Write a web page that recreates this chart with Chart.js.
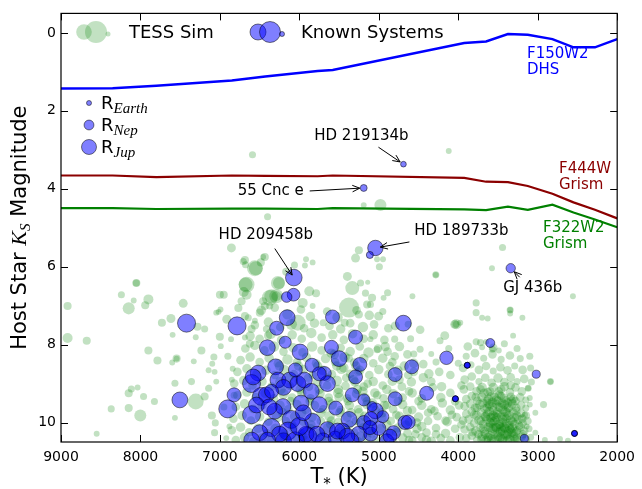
<!DOCTYPE html>
<html>
<head>
<meta charset="utf-8">
<script src="https://cdn.jsdelivr.net/npm/chart.js@4.4.1/dist/chart.umd.min.js"></script>
<style>
  html, body { margin: 0; padding: 0; background: #fff; }
  canvas { display: block; }
</style>
</head>
<body>
<canvas id="tessChart" width="642" height="489"></canvas>
<script>
const xTicks = [9000, 8000, 7000, 6000, 5000, 4000, 3000, 2000];
const yTicks = [0, 2, 4, 6, 8, 10];

// saturation limits (Ks) against stellar Teff
const limitTeff = [9000, 8350, 7800, 6850, 6430, 5770, 5580, 3925, 3650, 3375, 3125, 2815, 2550, 2280, 2000];
const f150w2Dhs = [1.43, 1.42, 1.36, 1.22, 1.12, 0.98, 0.95, 0.26, 0.22, 0.03, 0.05, 0.16, 0.37, 0.37, 0.16];
const f444wGrism = [3.66, 3.66, 3.70, 3.66, 3.67, 3.68, 3.66, 3.72, 3.82, 3.83, 3.93, 4.13, 4.35, 4.54, 4.76];
const f322w2Grism = [4.50, 4.50, 4.52, 4.51, 4.51, 4.52, 4.50, 4.53, 4.55, 4.46, 4.54, 4.41, 4.61, 4.79, 4.99];

// [Teff (K), Ks mag, planet radius (R_earth)]
const knownSystems = [
  [4690,3.37,1.3],[5190,3.98,1.9],[5043,5.52,9.5],[5113,5.70,2.0],[6070,6.28,11],[3340,6.04,3.5],
  [6073,6.72,6.5],[6160,6.78,4.5],[6153,7.31,10],[6286,7.58,7.8],[7420,7.45,13],[7504,9.42,10],
  [6901,9.65,13],[6822,9.29,7.8],[6784,7.52,13],[6403,8.08,10],[6178,7.94,5.8],[5991,8.19,10],
  [5841,8.53,7.8],[6299,8.57,10],[6518,8.73,10],[6602,9.0,13],[6477,9.33,13],[6602,9.8,13],
  [6415,9.29,10],[6270,8.91,10],[6123,8.91,10],[6020,9.0,10],[5937,8.91,10],[6207,9.59,10],
  [6310,9.71,10],[6103,9.92,13],[6353,10.13,13],[6498,10.26,10],[6145,10.22,13],[5895,10.35,13],
  [5979,9.5,10],[5596,8.07,7.8],[5293,7.81,7.8],[5500,8.36,10],[5239,8.51,7.8],[5293,8.83,7.8],
  [5686,8.74,7.8],[5646,9.0,10],[6581,8.83,10],[5750,9.54,10],[5542,9.63,7.8],[5334,9.29,7.8],
  [5188,9.42,5.8],[5375,9.92,10],[5188,10.0,7.8],[5833,9.97,10],[5646,10.18,10],[5459,10.22,10],
  [5916,10.30,10],[5251,10.30,10],[4691,7.45,10],[4586,8.57,7.8],[4794,8.77,7.8],[4794,9.39,7.8],
  [4398,9.25,7.8],[4149,8.34,7.2],[3887,8.53,1.4],[3887,8.53,1.4],[3887,8.53,1.4],
  [4036,9.39,1.4],[4036,9.39,1.4],[4036,9.39,1.4],[3597,7.96,3.2],[4671,10.0,7.8],[5043,9.7,10],
  [4815,10.26,7.8],[3019,8.76,2.6],[2537,10.28,1.4],[2537,10.28,1.4],[2537,10.28,1.4],[3168,10.41,2.6],
  [5583,7.29,7.8],[6200,10.47,10],[6050,10.47,13],[5700,10.47,10],[5350,10.47,10],[4900,10.47,7.8],
  [6540,9.55,10],[6380,9.6,10],[6250,10.3,10],[6000,10.1,13],[5950,9.75,10],[5780,10.3,10],
  [6400,10.45,10],[6600,10.45,10],[6200,9.1,10],[6350,9.2,7.8],[6050,8.65,7.8],[5850,9.2,10],
  [5550,10.4,7.8],[5400,10.35,10],[5100,10.3,7.8],[5000,10.15,7.8],[4950,9.85,5.8],[5100,9.9,7.8],
  [5750,8.75,7.8],[5521,10.22,10],[5113,10.13,7.8],[4860,10.35,7.8],[4630,9.99,7.8],[5085,9.59,4]
];

// simulated TESS yield: [Teff (K), Ks mag, planet radius (R_earth)]
const tessSim = [
  [6590,3.13,2],[4120,3.03,1.4],[5190,4.42,1.4],[4980,4.42,5.8],[6400,4.72,2],[6855,5.52,3.2],
  [8917,7.01,2.6],[8052,6.42,2.6],[8052,6.42,2],[8240,6.72,2],[8148,7.07,5.8],[8085,6.87,1.4],
  [7900,6.84,4],[7940,6.99,2.6],[7462,6.94,3.2],[7730,7.44,2.6],[7616,7.33,3.2],[7595,7.75,1.4],
  [7283,7.54,2.6],[7192,7.6,2],[7304,7.81,1.4],[7046,7.18,1.4],[8917,7.83,4],[8676,7.9,2.6],
  [7900,8.15,2.6],[7786,8.41,2.6],[7545,8.36,2.6],[7545,8.36,1.4],[7600,8.46,1.4],[7329,8.43,1.4],
  [7233,8.15,2.6],[7566,8.99,2],[7358,8.95,2],[8148,9.25,2.6],[8115,9.14,2],[8036,9.1,1.4],
  [7961,9.33,2],[7824,9.46,2],[8368,9.65,2],[8148,9.63,2.6],[8002,9.82,5.8],[7566,9.88,1.4],
  [8551,10.29,1.4],[7304,9.46,10],[7192,9.33,2.6],[7142,9.12,2],[7101,9.82,2.6],[7058,10.01,2],
  [7067,10.26,2],[7076,8.32,2],[7096,8.49,1.4],[7142,8.66,1.4],[7067,8.70,1.4],[7046,8.95,1.4],
  [7000,6.72,2.6],[7017,7.16,1.4],[7001,7.8,2.6],[6989,8.04,1.4],[6914,7.35,3.2],[6860,7.86,1.4],
  [6839,8.62,1.4],[6768,7.06,2.6],[6706,5.87,2],[6677,5.95,2],[6548,6.04,7.8],[6677,6.46,7.8],
  [6435,5.75,2.6],[6485,5.89,2.6],[6727,6.89,2.6],[6664,6.72,4],[6353,6.76,7.8],[6257,6.42,5.8],
  [6498,7.18,2.6],[6560,7.39,1.4],[6643,7.31,2],[6435,7.01,2.6],[6394,7.77,2.6],[6602,7.6,2.6],
  [6685,7.82,1.4],[6623,7.98,2.6],[6685,5.83,2.6],[6560,6.04,10],[6456,5.75,1.4],[6664,6.46,10],
  [6700,6.65,4],[6270,6.42,7.8],[6290,6.76,7.8],[6290,6.76,4],[6373,6.80,10],[6061,5.96,2],
  [5916,5.81,1.4],[5930,5.97,1.4],[5833,5.89,1.4],[6165,6.13,2.6],[5875,6.63,4],[5790,6.68,2.6],
  [5958,6.93,4],[5833,7.01,1.4],[6020,7.44,10],[6456,6.89,2.6],[6373,7.01,2],[6952,6.72,2.6],
  [6993,7.1,1.4],[6685,7.27,2.6],[6415,7.6,2],[6900,8.3,2],[6850,8.9,1.4],[6950,9.6,2],
  [6880,10.1,1.4],[6820,9.3,2],[6920,10.4,1.4],
  [5375,7.05,16],[5334,6.55,7.8],[5396,6.25,3.2],[5293,5.78,3.2],[5251,5.58,2.6],[5230,6.42,2],
  [5168,6.68,2],[5147,6.97,2.6],[5251,7.23,2.6],[5700,7.44,2],[5430,7.44,2.6],
  [3443,5.51,2],[3576,6.04,1.4],[4283,6.21,2],[4283,6.21,1.4],[4577,6.76,1.4],[5022,5.81,1.4],
  [4947,5.81,1.4],[4993,6.0,2],[5140,6.40,1],[5085,6.80,2.6],[4940,6.80,1.4],[4890,6.67,2],
  [5105,6.97,2],[5002,7.27,3.2],[3775,6.93,2],[3775,7.18,2],[3700,7.31,1.4],[3630,7.33,1.4],
  [3347,7.11,2],[3347,7.11,1.4],[3347,7.2,1.4],[3193,7.31,1.4],[4024,7.48,4],[4024,7.48,2],
  [4794,7.52,3.2],[4630,7.48,2],[2557,6.76,1.4],[3310,7.77,1.4],[4170,7.77,3.2],[4045,7.48,3.2],
  [3975,7.44,1.4],[3775,7.93,2],[3650,7.93,1.4],[3570,8.12,2],[3700,8.07,1.4],[3490,8.15,1.4],
  [4560,8.24,2],[5022,8.13,2],[4800,7.86,2],[4340,8.24,1.4],[5105,7.86,1.4],
  [2927,9.54,2],[3030,9.75,1.4],[2840,8.95,2],[2840,8.95,1.4],[3030,10.26,1.4],[2720,10.42,1.4],
  [2910,10.45,1.4],[3120,9.12,1.4],[3100,9.37,1.4],[3100,9.54,1.4],[3140,10.1,1.4],[3160,9.8,1.4],
  [2620,10.47,1.4],
  [6480,7.12,3.6],[6310,7.05,3],[6150,7.22,4.4],[5980,7.1,3],[5860,7.28,3.6],[5650,7.15,3],
  [5520,7.3,4.4],[5280,7.12,3],[5120,7.25,3.6],[4950,7.15,2],
  [6560,7.5,3],[6390,7.42,3.6],[6240,7.55,3],[6100,7.48,5],[5940,7.58,3],[5810,7.45,3.6],
  [5620,7.52,3],[5480,7.6,3.6],[5360,7.45,3],[5200,7.55,4.4],[5060,7.48,3],[4880,7.58,3],[4480,7.62,3],
  [6620,7.78,3.6],[6500,7.85,3],[6360,7.72,4.4],[6230,7.88,3],[6090,7.75,3.6],[5970,7.85,3],
  [5850,7.7,4.4],[5720,7.82,3],[5580,7.75,3.6],[5440,7.88,3],[5330,7.72,3.6],[5190,7.85,3],
  [5070,7.75,3.6],[4930,7.88,3],[4600,7.85,2],[4230,7.9,2],
  [6680,8.1,3],[6560,8.02,3.6],[6440,8.15,3],[6320,8.05,4.4],[6200,8.18,3],[6080,8.08,3.6],
  [5960,8.2,3],[5840,8.05,4.4],[5720,8.15,3],[5600,8.22,3.6],[5480,8.08,3],[5360,8.18,3.6],
  [5240,8.05,3],[5130,8.2,4.4],[5010,8.1,3],[4890,8.18,3],[4740,8.05,3.6],[4480,8.12,2],[4120,8.1,2],
  [6740,8.4,3],[6620,8.32,3.6],[6500,8.45,3],[6380,8.35,3.6],[6270,8.48,3],[6150,8.38,4.4],
  [6030,8.45,3],[5910,8.33,3.6],[5790,8.48,3],[5670,8.36,3.6],[5550,8.45,3],[5430,8.32,4.4],
  [5310,8.46,3],[5190,8.36,3.6],[5070,8.48,3],[4950,8.35,3.6],[4830,8.45,3],[4560,8.48,3.6],
  [4280,8.45,2],[4000,8.48,2],
  [6780,8.7,3],[6660,8.62,3.6],[6540,8.75,3],[6420,8.66,3.6],[6310,8.78,3],[6190,8.65,4.4],
  [6070,8.76,3],[5950,8.64,3.6],[5830,8.78,3],[5710,8.66,3.6],[5590,8.76,3],[5470,8.62,4.4],
  [5360,8.75,3],[5240,8.66,3.6],[5120,8.78,3],[5000,8.64,3.6],[4880,8.76,3],[4760,8.66,3.6],
  [4630,8.78,3],[4370,8.75,3.6],[4100,8.78,3],
  [6820,9.0,3],[6700,8.92,3.6],[6590,9.05,3],[6470,8.95,3.6],[6350,9.08,3],[6240,8.96,4.4],
  [6120,9.06,3],[6000,8.94,3.6],[5880,9.08,3],[5770,8.96,3.6],[5650,9.05,3],[5530,8.93,4.4],
  [5420,9.06,3],[5300,8.96,3.6],[5190,9.08,3],[5070,8.95,3.6],[4950,9.05,3],[4830,8.94,3.6],
  [4710,9.08,3],[4590,8.96,3.6],[4340,8.95,3],[4210,9.08,3.6],[3960,9.05,3],
  [6780,9.3,3],[6660,9.22,3.6],[6550,9.35,3],[6430,9.25,3.6],[6320,9.38,3],[6200,9.26,4.4],
  [6090,9.36,3],[5970,9.24,3.6],[5860,9.38,3],[5740,9.26,3.6],[5630,9.36,3],[5510,9.24,4.4],
  [5400,9.38,3],[5280,9.26,3.6],[5170,9.36,3],[5050,9.24,3.6],[4940,9.38,3],[4820,9.26,3.6],
  [4700,9.36,3],[4580,9.24,3.6],[4460,9.38,3],[4220,9.36,3.6],[4100,9.24,3],
  [6800,9.6,3],[6690,9.52,3.6],[6580,9.65,3],[6470,9.55,3.6],[6360,9.68,3],[6250,9.56,4.4],
  [6140,9.66,3],[6030,9.54,3.6],[5920,9.68,3],[5810,9.56,3.6],[5700,9.66,3],[5590,9.54,4.4],
  [5480,9.68,3],[5370,9.56,3.6],[5260,9.66,3],[5150,9.54,3.6],[5040,9.68,3],[4930,9.56,3.6],
  [4820,9.66,3],[4700,9.54,3.6],[4580,9.68,3],[4460,9.56,3.6],[4340,9.66,3],[4100,9.68,3.6],[3990,9.56,3],
  [6830,9.9,3],[6720,9.82,3.6],[6610,9.95,3],[6500,9.85,3.6],[6390,9.98,3],[6280,9.86,4.4],
  [6170,9.96,3],[6060,9.84,3.6],[5950,9.98,3],[5840,9.86,3.6],[5730,9.96,3],[5620,9.84,4.4],
  [5510,9.98,3],[5400,9.86,3.6],[5290,9.96,3],[5180,9.84,3.6],[5070,9.98,3],[4960,9.86,3.6],
  [4850,9.96,3],[4740,9.84,3.6],[4620,9.98,3],[4500,9.86,3.6],[4380,9.96,3],[4260,9.84,3],
  [4140,9.98,3.6],[4020,9.86,3],
  [6850,10.2,3],[6740,10.12,3.6],[6630,10.25,3],[6520,10.15,3.6],[6410,10.28,3],[6300,10.16,4.4],
  [6190,10.26,3],[6080,10.14,3.6],[5970,10.28,3],[5860,10.16,3.6],[5750,10.26,3],[5640,10.14,4.4],
  [5530,10.28,3],[5420,10.16,3.6],[5310,10.26,3],[5200,10.14,3.6],[5090,10.28,3],[4980,10.16,3.6],
  [4870,10.26,3],[4760,10.14,3.6],[4640,10.28,3],[4520,10.16,3.6],[4400,10.26,3],[4280,10.14,3],
  [4160,10.28,3.6],[4040,10.16,3],
  [6800,10.45,3],[6690,10.38,3.6],[6580,10.48,3],[6470,10.4,3.6],[6360,10.46,3],[6250,10.38,4.4],
  [6140,10.48,3],[6030,10.4,3.6],[5920,10.46,3],[5810,10.38,3.6],[5700,10.48,3],[5590,10.4,4.4],
  [5480,10.46,3],[5370,10.38,3.6],[5260,10.48,3],[5150,10.4,3.6],[5040,10.46,3],[4930,10.38,3.6],
  [4820,10.48,3],[4700,10.4,3.6],[4580,10.46,3],[4460,10.38,3],[4340,10.48,3.6],[4220,10.4,3],
  [4100,10.46,3],[3980,10.38,3],
  [6250,8.55,3.6],[6130,8.85,3],[6010,8.55,3.6],[5890,8.85,3],[5770,8.55,3.6],[5650,8.85,3],
  [5530,8.55,3.6],[5410,8.85,3],[5290,8.55,3.6],
  [6230,9.15,3.6],[6110,9.45,3],[5990,9.15,3.6],[5870,9.45,3],[5750,9.15,3.6],[5630,9.45,3],
  [5510,9.15,3.6],[5390,9.45,3],[5270,9.15,3.6],[5150,9.45,3],
  [6210,9.75,3.6],[6090,10.05,3],[5970,9.75,3.6],[5850,10.05,3],[5730,9.75,3.6],[5610,10.05,3],
  [5490,9.75,3.6],[5370,10.05,3],[5250,9.75,3.6],[5130,10.05,3],
  [6190,10.35,3.6],[5950,10.35,3],[5710,10.35,3.6],[5470,10.35,3],[5230,10.35,3.6],
  [5560,8.25,3.6],[5440,8.6,3.6],[5320,8.9,3.6],[5200,9.2,3.6],[5080,9.5,3.6],[4960,9.75,3.6],
  [5350,9.75,3.6],[5230,10.0,3.6],[5110,10.2,3.6],[5500,9.35,3.6],[5380,8.35,3],[5260,8.7,3],
  [5140,9.0,3],[5020,9.3,3],[4900,9.55,3],[4780,9.8,3],[4660,10.05,3],[4540,10.3,3],[5600,9.95,3],
  [5480,10.2,3],[4860,8.55,3],[4740,8.9,3],[4620,9.2,3],[4500,9.45,3],[4380,9.75,3],
  [4920,8.05,3.6],[4800,8.3,3],[4680,8.55,3.6],[4560,8.7,3],[4440,8.85,3.6],[4320,9.1,3],[4200,9.5,3.6],
  [4080,9.8,3],[3960,10.05,3],[4900,9.15,3.6],[4760,9.45,3],[4640,9.7,3.6],[4520,10.0,3],[4400,10.45,3.6],
  [4280,10.3,3],[4160,9.95,3],[4040,9.45,3],[4440,8.5,3],[4640,8.25,3],[4240,8.7,3],[4900,10.05,3.6],
  [4780,10.25,3],[4620,10.45,3],[4460,10.1,3.6],[4300,9.7,3],
  [3880,8.05,3],[3720,7.95,2],[3560,8.08,3],[3420,7.98,2],[3260,8.1,2],
  [3900,8.3,2],[3790,8.22,3],[3680,8.35,2],[3570,8.25,3],[3460,8.38,2],[3350,8.28,3],[3220,8.36,2],[3100,8.3,2],
  [3940,8.6,3],[3840,8.52,2],[3740,8.65,3],[3650,8.55,3],[3560,8.68,2],[3470,8.58,3],[3380,8.66,3],
  [3290,8.55,2],[3190,8.65,3],[3090,8.6,2],
  [3920,8.9,3],[3830,8.82,3],[3740,8.95,2],[3660,8.85,3],[3580,8.98,3],[3500,8.86,3.6],[3420,8.96,3],
  [3340,8.84,3],[3260,8.95,2],[3170,8.88,3],[3080,8.96,2],
  [3930,9.15,3],[3850,9.08,3],[3770,9.2,3],[3700,9.1,3.6],[3630,9.22,3],[3560,9.1,3.6],[3490,9.2,3],
  [3420,9.08,3.6],[3350,9.22,3],[3280,9.1,3],[3200,9.2,3],[3120,9.12,2],
  [3900,9.4,3],[3830,9.32,3],[3760,9.44,3],[3700,9.35,3.6],[3640,9.45,3],[3580,9.33,3.6],[3520,9.42,3.6],
  [3460,9.32,3],[3400,9.44,3.6],[3340,9.34,3],[3280,9.45,3],[3220,9.35,3],[3150,9.42,2],
  [3920,9.58,3],[3850,9.52,3],[3790,9.62,3],[3730,9.54,3.6],[3670,9.64,3],[3620,9.52,3.6],[3570,9.6,3.6],
  [3520,9.52,3],[3470,9.62,3.6],[3420,9.54,3.6],[3370,9.64,3],[3320,9.52,3.6],[3270,9.62,3],[3210,9.55,3],[3150,9.63,2],
  [3900,9.78,3],[3830,9.72,3],[3770,9.82,3.6],[3710,9.74,3],[3660,9.84,3.6],[3610,9.72,3.6],[3560,9.82,3.6],
  [3510,9.74,3.6],[3460,9.84,3],[3410,9.72,3.6],[3360,9.82,3.6],[3310,9.74,3],[3260,9.84,3.6],[3210,9.76,3],[3150,9.82,3],
  [3940,9.95,3],[3870,9.92,3],[3800,10.02,3],[3740,9.94,3.6],[3690,10.04,3],[3640,9.92,3.6],[3590,10.02,3.6],
  [3540,9.94,3.6],[3490,10.04,3.6],[3440,9.92,3.6],[3390,10.02,3.6],[3340,9.94,3.6],[3290,10.04,3],[3240,9.92,3.6],
  [3190,10.02,3],[3130,9.96,3],
  [3920,10.18,3],[3850,10.12,3],[3780,10.22,3.6],[3720,10.14,3],[3670,10.24,3.6],[3620,10.12,3.6],[3570,10.22,3.6],
  [3520,10.14,3.6],[3470,10.24,3.6],[3420,10.12,3.6],[3370,10.22,3.6],[3320,10.14,3.6],[3270,10.24,3],[3220,10.12,3.6],
  [3170,10.22,3],[3110,10.16,2],
  [3900,10.4,3],[3830,10.34,3],[3760,10.44,3],[3700,10.36,3.6],[3650,10.46,3.6],[3600,10.34,3.6],[3550,10.44,3.6],
  [3500,10.36,3.6],[3450,10.46,3.6],[3400,10.34,3.6],[3350,10.44,3.6],[3300,10.36,3.6],[3250,10.46,3],[3200,10.36,3],
  [3150,10.44,3],[3090,10.38,2],
  [3620,9.4,3.6],[3560,9.7,3.6],[3500,9.45,3.6],[3440,9.68,3.6],[3380,9.5,3.6],[3600,10.0,3.6],[3540,10.3,3.6],
  [3480,10.05,3.6],[3420,10.3,3.6],[3360,10.08,3.6],[3300,10.28,3.6],[3660,10.3,3.6],[3520,9.88,3.6],[3460,10.15,3.6],
  [3400,9.9,3.6],[3340,10.18,3],[3580,10.42,3.6],[3440,10.42,3.6],[3640,9.62,3],[3480,9.28,3],
  [3675,9.25,3.6],[3605,9.55,3.6],[3545,9.35,3.6],[3485,9.6,3.6],[3425,9.38,3.6],[3365,9.6,3.6],[3305,9.4,3],
  [3655,9.85,3.6],[3595,10.12,3.6],[3535,9.85,3.6],[3475,10.1,3.6],[3415,9.85,3.6],[3355,10.15,3.6],[3295,9.88,3.6],
  [3235,10.08,3],[3625,10.38,3.6],[3565,10.15,3.6],[3505,10.45,3.6],[3445,10.22,3.6],[3385,10.45,3.6],[3325,10.25,3.6],
  [3265,10.4,3],[3715,9.95,3],[3745,10.3,3],[3765,9.62,3],[3195,9.9,3],[3185,10.3,3],
  [3690,9.5,3.6],[3630,9.78,3.6],[3570,9.48,3.6],[3510,9.8,3.6],[3450,9.5,3.6],[3390,9.75,3.6],[3330,9.45,3.6],
  [3270,9.7,3],[3680,10.15,3.6],[3620,10.45,3.6],[3560,9.98,3.6],[3500,10.25,3.6],[3440,10.0,3.6],[3380,10.3,3.6],
  [3320,9.98,3.6],[3260,10.2,3],[3710,10.42,3],[3470,10.38,3.6],[3350,10.38,3.6],[3530,10.12,3.6],[3410,10.15,3.6],
  [3590,9.88,3.6],[3290,10.42,3],[3720,9.15,3],[3600,9.2,3],[3460,9.15,3],[3340,9.05,3],[3780,9.35,3],
  [3800,9.8,3],[3820,10.25,3]
];

// labelled planets: name, Teff, Ks
const namedPlanets = ['HD 219134b', '55 Cnc e', 'HD 189733b', 'HD 209458b', 'GJ 436b'];
const namedTeff = [4690, 5190, 5043, 6070, 3340];
const namedKs = [3.37, 3.98, 5.52, 6.28, 6.04];
// text centre and arrow tail, as pixel offsets from the planet
const namedLayout = [
  { tx: -42, ty: -28, ax: -25, ay: -17, shrink: 4 },
  { tx: -93, ty: 3, ax: -54, ay: 3, shrink: 4 },
  { tx: 86, ty: -17, ax: 34, ay: -6, shrink: 5 },
  { tx: -28, ty: -42, ax: -19, ay: -29, shrink: 3 },
  { tx: 22, ty: 20, ax: 9, ay: 9, shrink: 5 }
];

const GREEN_FILL = 'rgba(0,128,0,0.24)';
const BLUE_FILL = 'rgba(0,0,255,0.5)';
const BLUE_EDGE = 'rgba(0,0,0,0.5)';
const SANS = '"DejaVu Sans", sans-serif';
const SERIF_IT = '"Liberation Serif", "DejaVu Serif", serif';

function bubbleR(rp) { return 2.5 * Math.sqrt(rp); }
function toBubbles(rows) { return rows.map(p => ({ x: p[0], y: p[1], r: bubbleR(p[2]) })); }
function toLine(vals) { return limitTeff.map((t, i) => ({ x: t, y: vals[i] })); }

function drawRuns(ctx, runs, x, y, align) {
  let w = 0;
  runs.forEach(r => { ctx.font = r.font; r.w = ctx.measureText(r.text).width; w += r.w; });
  let cx = align === 'center' ? x - w / 2 : x;
  ctx.textAlign = 'left';
  runs.forEach(r => { ctx.font = r.font; ctx.fillText(r.text, cx, y + (r.dy || 0)); cx += r.w; });
}

function circle(ctx, x, y, r, fill, edge) {
  ctx.beginPath();
  ctx.arc(x, y, r, 0, Math.PI * 2);
  ctx.fillStyle = fill;
  ctx.fill();
  if (edge) { ctx.strokeStyle = edge; ctx.lineWidth = 1; ctx.stroke(); }
}

function arrow(ctx, x0, y0, x1, y1) {
  const ang = Math.atan2(y1 - y0, x1 - x0);
  const h = 8, s = 0.42;
  ctx.beginPath();
  ctx.moveTo(x0, y0);
  ctx.lineTo(x1, y1);
  ctx.moveTo(x1 - h * Math.cos(ang - s), y1 - h * Math.sin(ang - s));
  ctx.lineTo(x1, y1);
  ctx.lineTo(x1 - h * Math.cos(ang + s), y1 - h * Math.sin(ang + s));
  ctx.stroke();
}

const decorations = {
  id: 'decorations',
  afterDatasetsDraw(chart) {
    const { ctx, chartArea: a, scales: { x, y } } = chart;
    ctx.save();
    ctx.textBaseline = 'middle';

    // curve labels
    ctx.font = '15px ' + SANS;
    ctx.textAlign = 'left';
    ctx.fillStyle = '#0000ff';
    ctx.fillText('F150W2', 527, 54);
    ctx.fillText('DHS', 527, 70);
    ctx.fillStyle = '#8b0000';
    ctx.fillText('F444W', 559, 169);
    ctx.fillText('Grism', 559, 185);
    ctx.fillStyle = '#008000';
    ctx.fillText('F322W2', 543, 228);
    ctx.fillText('Grism', 543, 244);

    // named planets
    ctx.fillStyle = '#000';
    ctx.strokeStyle = '#000';
    ctx.lineWidth = 1;
    namedPlanets.forEach((name, i) => {
      const px = x.getPixelForValue(namedTeff[i]);
      const py = y.getPixelForValue(namedKs[i]);
      const L = namedLayout[i];
      ctx.textAlign = 'center';
      ctx.font = '15px ' + SANS;
      ctx.fillText(name, px + L.tx, py + L.ty);
      const x0 = px + L.ax, y0 = py + L.ay;
      const d = Math.hypot(x0 - px, y0 - py);
      arrow(ctx, x0, y0, px + (x0 - px) / d * L.shrink, py + (y0 - py) / d * L.shrink);
    });

    // legend
    circle(ctx, 84, 32, 7.8, GREEN_FILL);
    circle(ctx, 96, 32, 11, GREEN_FILL);
    circle(ctx, 108, 34, 2.5, GREEN_FILL);
    circle(ctx, 258, 32, 8, BLUE_FILL, BLUE_EDGE);
    circle(ctx, 270, 32, 10.5, BLUE_FILL, BLUE_EDGE);
    circle(ctx, 282, 34, 2.5, BLUE_FILL, BLUE_EDGE);
    ctx.fillStyle = '#000';
    ctx.textBaseline = 'alphabetic';
    ctx.textAlign = 'left';
    ctx.font = '18px ' + SANS;
    ctx.fillText('TESS Sim', 129, 38);
    ctx.fillText('Known Systems', 301, 38);

    // planet size key
    const keys = [['Earth', 103, 1], ['Nep', 125, 3.9], ['Jup', 147, 9]];
    keys.forEach(k => {
      circle(ctx, 89, k[1], bubbleR(k[2]), BLUE_FILL, BLUE_EDGE);
      ctx.fillStyle = '#000';
      drawRuns(ctx, [
        { text: 'R', font: '18px ' + SANS },
        { text: k[0], font: 'italic 15px ' + SERIF_IT, dy: 4 }
      ], 101, k[1] + 6, 'left');
    });

    // frame and inward ticks
    ctx.strokeStyle = '#000';
    ctx.lineWidth = 1.2;
    ctx.strokeRect(a.left, a.top, a.right - a.left, a.bottom - a.top);
    ctx.lineWidth = 1;
    ctx.beginPath();
    xTicks.forEach(v => {
      const px = Math.round(x.getPixelForValue(v)) + 0.5;
      ctx.moveTo(px, a.bottom); ctx.lineTo(px, a.bottom - 7);
      ctx.moveTo(px, a.top); ctx.lineTo(px, a.top + 7);
    });
    yTicks.forEach(v => {
      const py = Math.round(y.getPixelForValue(v)) + 0.5;
      ctx.moveTo(a.left, py); ctx.lineTo(a.left + 7, py);
      ctx.moveTo(a.right, py); ctx.lineTo(a.right - 7, py);
    });
    ctx.stroke();

    // axis titles
    ctx.fillStyle = '#000';
    drawRuns(ctx, [
      { text: 'T', font: '21px ' + SANS },
      { text: '*', font: '15px ' + SANS, dy: 6 },
      { text: ' (K)', font: '21px ' + SANS }
    ], (a.left + a.right) / 2, 483, 'center');

    ctx.translate(19, (a.top + a.bottom) / 2);
    ctx.rotate(-Math.PI / 2);
    drawRuns(ctx, [
      { text: 'Host Star ', font: '21px ' + SANS },
      { text: 'K', font: 'italic 22px ' + SERIF_IT },
      { text: 'S', font: 'italic 15px ' + SERIF_IT, dy: 4 },
      { text: ' Magnitude', font: '21px ' + SANS }
    ], 0, 7, 'center');
    ctx.restore();
  }
};

new Chart(document.getElementById('tessChart'), {
  type: 'bubble',
  data: {
    datasets: [
      { type: 'line', label: 'F150W2 DHS', data: toLine(f150w2Dhs), borderColor: '#0000ff',
        borderWidth: 2.5, pointRadius: 0, fill: false, tension: 0, order: 0 },
      { type: 'line', label: 'F444W Grism', data: toLine(f444wGrism), borderColor: '#8b0000',
        borderWidth: 2.2, pointRadius: 0, fill: false, tension: 0, order: 0 },
      { type: 'line', label: 'F322W2 Grism', data: toLine(f322w2Grism), borderColor: '#008000',
        borderWidth: 2.2, pointRadius: 0, fill: false, tension: 0, order: 0 },
      { label: 'Known Systems', data: toBubbles(knownSystems), backgroundColor: BLUE_FILL,
        borderColor: BLUE_EDGE, borderWidth: 1, order: 1 },
      { label: 'TESS Sim', data: toBubbles(tessSim), backgroundColor: GREEN_FILL,
        borderColor: 'rgba(0,0,0,0)', borderWidth: 0, order: 2 }
    ]
  },
  options: {
    responsive: false,
    animation: false,
    events: [],
    layout: { padding: { top: 8, right: 20, left: 0, bottom: 0 } },
    plugins: { legend: { display: false }, tooltip: { enabled: false } },
    scales: {
      x: {
        type: 'linear', reverse: true, min: 2000, max: 9000,
        grid: { display: false, drawTicks: false },
        border: { display: false },
        ticks: { color: '#000', font: { family: 'DejaVu Sans', size: 14 }, padding: 7,
          maxRotation: 0, callback: v => String(v) },
        afterBuildTicks: s => { s.ticks = xTicks.map(v => ({ value: v })); },
        afterFit: s => { s.height = 47; }
      },
      y: {
        type: 'linear', reverse: true, min: -0.5, max: 10.5,
        grid: { display: false, drawTicks: false },
        border: { display: false },
        ticks: { color: '#000', font: { family: 'DejaVu Sans', size: 14 }, padding: 5,
          callback: v => String(v) },
        afterBuildTicks: s => { s.ticks = yTicks.map(v => ({ value: v })); },
        afterFit: s => { s.width = 61; }
      }
    }
  },
  plugins: [decorations]
});
</script>
</body>
</html>
